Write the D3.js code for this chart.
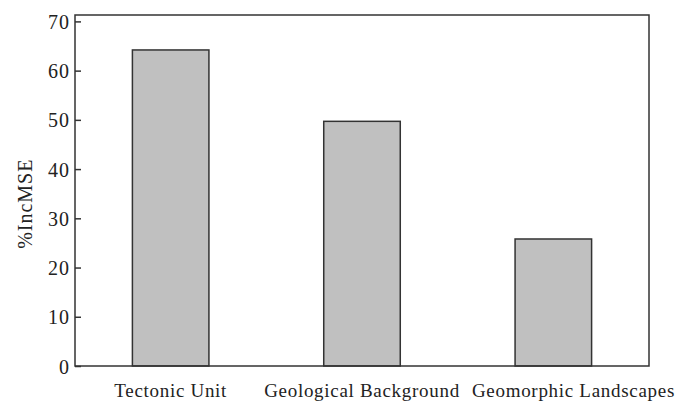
<!DOCTYPE html>
<html>
<head>
<meta charset="utf-8">
<script src="https://cdn.jsdelivr.net/npm/d3@7"></script>
<style>
  body { margin: 0; background: #fff; }
  text { font-family: "Liberation Serif", "Times New Roman", serif; fill: #222; }
</style>
</head>
<body>
<svg id="chart" width="676" height="401"></svg>
<script>
// data
const categories = ["Tectonic Unit", "Geological Background", "Geomorphic Landscapes"];
const incMSE = [64.2, 49.7, 25.8];
const yTicks = [0, 10, 20, 30, 40, 50, 60, 70];

const margin = {top: 15, right: 27, bottom: 35, left: 75},
    width = 676 - margin.left - margin.right,
    height = 401 - margin.top - margin.bottom;

const svg = d3.select("#chart")
  .append("g")
    .attr("transform", `translate(${margin.left}, ${margin.top})`);

const x = d3.scaleBand().domain(categories).range([0, width])
    .paddingInner(0.6).paddingOuter(0.3);
const y = d3.scaleLinear().domain([0, 71.3]).range([height, 0]);

// bars
svg.selectAll("rect.bar")
  .data(incMSE)
  .enter().append("rect")
    .attr("class", "bar")
    .attr("x", (d, i) => x(categories[i]))
    .attr("y", d => y(d))
    .attr("width", x.bandwidth())
    .attr("height", d => height - y(d))
    .attr("fill", "#c0c0c0")
    .attr("stroke", "#333")
    .attr("stroke-width", 1.5);

// frame
svg.append("rect")
    .attr("x", 0).attr("y", 0)
    .attr("width", width).attr("height", height)
    .attr("fill", "none")
    .attr("stroke", "#333")
    .attr("stroke-width", 1.5);

// y axis, ticks pointing inward
const yAxis = d3.axisLeft(y).tickValues(yTicks).tickSizeInner(-6).tickSizeOuter(0).tickPadding(5);
const gy = svg.append("g").call(yAxis);
gy.select(".domain").remove();
gy.selectAll(".tick line").attr("stroke", "#333").attr("stroke-width", 1.5);
gy.selectAll(".tick text")
    .style("font-size", "20px")
    .style("letter-spacing", "1px")
    .attr("dy", "0.35em")
    .attr("fill", "#222");

// x labels (last one pushed right so it does not run into the middle one)
svg.selectAll("text.xlab")
  .data(categories)
  .enter().append("text")
    .attr("class", "xlab")
    .attr("x", (d, i) => i == categories.length - 1 ? width + 26 : x(d) + x.bandwidth() / 2)
    .attr("y", height + 31)
    .attr("text-anchor", (d, i) => i == categories.length - 1 ? "end" : "middle")
    .style("font-size", "19px")
    .style("letter-spacing", "0.7px")
    .text(d => d);

// y title
svg.append("text")
    .attr("transform", `translate(${-43}, ${y(35) + 10}) rotate(-90)`)
    .attr("text-anchor", "middle")
    .style("font-size", "20px")
    .style("letter-spacing", "1px")
    .text("%IncMSE");
</script>
</body>
</html>
